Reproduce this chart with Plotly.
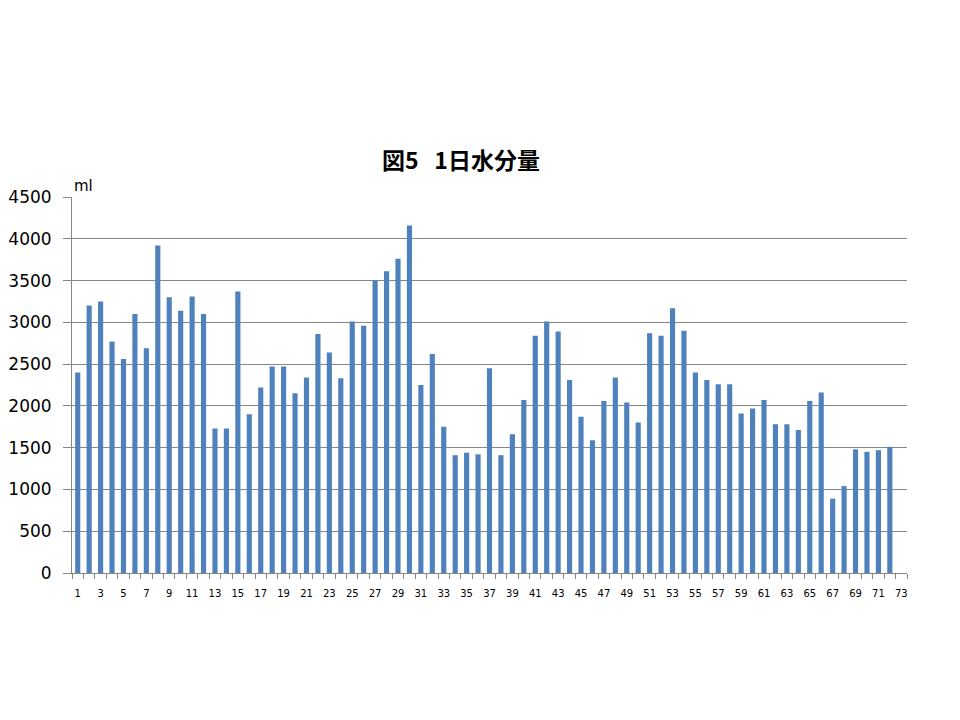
import plotly.graph_objects as go

days = list(range(1, 74))
water_ml = [2400, 3200, 3250, 2770, 2560, 3100, 2690, 3920, 3300, 3140,
            3310, 3100, 1730, 1730, 3370, 1900, 2220, 2470, 2470, 2150,
            2340, 2860, 2640, 2330, 3010, 2960, 3500, 3610, 3760, 4160,
            2250, 2620, 1750, 1410, 1440, 1420, 2450, 1410, 1660, 2070,
            2840, 3010, 2890, 2310, 1870, 1590, 2060, 2340, 2040, 1800,
            2870, 2840, 3170, 2900, 2400, 2310, 2260, 2260, 1910, 1970,
            2070, 1780, 1780, 1710, 2060, 2160, 890, 1040, 1480, 1450,
            1470, 1510, None]
y_ticks = [0, 500, 1000, 1500, 2000, 2500, 3000, 3500, 4000, 4500]
x_labels = list(range(1, 74, 2))
title_text = "図5\u00a0\u00a0\u00a01日水分量"
unit_text = "ml"

# the page body adds an 8px offset; margins compensate for it
fig = go.Figure(go.Bar(
    x=days, y=water_ml,
    marker=dict(color="#4F81BD", line=dict(width=0)),
    width=0.45,
))

fig.update_layout(
    width=960, height=720,
    paper_bgcolor="white", plot_bgcolor="white",
    margin=dict(l=64, r=61, t=189, b=155),
    showlegend=False,
    title=dict(text="<b>" + title_text + "</b>", x=(461 - 8) / 960, xanchor="center",
               y=1 - (161 - 8) / 720, yanchor="middle",
               font=dict(family="Noto Sans CJK JP", size=23, color="black")),
    font=dict(family="DejaVu Sans", color="black"),
)

fig.update_xaxes(
    range=[0.5, 73.5], automargin=False,
    tickmode="array", tickvals=x_labels, ticktext=[str(v) for v in x_labels],
    ticks="", tickfont=dict(size=10), ticklabelstandoff=11,
    showline=True, linecolor="#878787", linewidth=1,
    showgrid=False, zeroline=False,
    minor=dict(tickmode="array", tickvals=[v + 0.5 for v in range(0, 74)],
               ticks="outside", ticklen=5, tickcolor="#878787", showgrid=False),
)

fig.update_yaxes(
    range=[0, 4500], automargin=False,
    tickmode="array", tickvals=y_ticks,
    ticks="outside", ticklen=8, tickcolor="#878787",
    tickfont=dict(size=17), ticklabelstandoff=8,
    showline=True, linecolor="#878787", linewidth=1,
    showgrid=True, gridcolor="#878787", gridwidth=1,
    zeroline=False,
)

fig.add_annotation(text=unit_text, xref="paper", yref="paper",
                   x=0.0, y=1.0, xanchor="left", yanchor="bottom",
                   showarrow=False, font=dict(size=15, color="black"), xshift=0)

fig.write_html("out.html")
